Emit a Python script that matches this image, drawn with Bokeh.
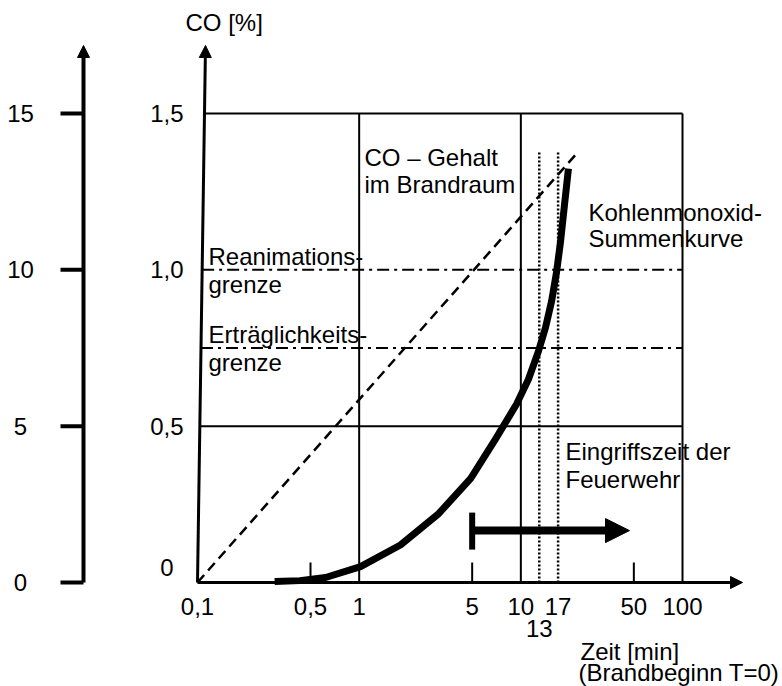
from bokeh.plotting import figure
from bokeh.models import Arrow, NormalHead
from bokeh.core.properties import value
from bokeh.embed import file_html
from bokeh.resources import INLINE

# ---------------- data ----------------
time_ticks = [0.1, 0.5, 1, 5, 10, 13, 17, 50, 100]
time_labels = ["0,1", "0,5", "1", "5", "10", "13", "17", "50", "100"]
co_ticks = [0, 0.5, 1.0, 1.5]
co_labels = ["0", "0,5", "1,0", "1,5"]
scale2_ticks = [0, 5, 10, 15]
scale2_labels = ["0", "5", "10", "15"]
scale2_factor = 10

grid_times = [1, 10, 100]
grid_co = [0.5, 1.5]
limit_co = [1.0, 0.75]
limit_names = [["Reanimations-", "grenze"], ["Erträglichkeits-", "grenze"]]
minor_times = [0.5, 5, 50]
marker_times = [13, 17]
marker_top = 1.378

room_time = [0.1, 22.7]
room_co = [0.0, 1.378]

sum_time = [0.30, 0.43, 0.62, 1.02, 1.8, 3.1, 4.9, 7.0, 9.4, 11.15, 12.86,
            14.2, 15.5, 16.6, 17.6, 18.6, 19.7]
sum_co = [0.003, 0.006, 0.016, 0.051, 0.12, 0.22, 0.333, 0.46, 0.57, 0.65,
          0.74, 0.815, 0.90, 0.99, 1.09, 1.205, 1.324]

response_start = 5
response_end = 47
response_level = 0.166

# ---------------- layout ----------------
W, H = 782, 686
X0_PX = 197.0      # canvas x of t = 0.1
DEC_PX = 161.67    # pixels per decade
Y0_PX = 104.0      # canvas y (from bottom) of CO = 0
PPU = 312.67       # pixels per CO unit

x_start = 0.1 * 10 ** (-X0_PX / DEC_PX)
x_end = 0.1 * 10 ** ((W - X0_PX) / DEC_PX)
y_start = -Y0_PX / PPU
y_end = (H - Y0_PX) / PPU


def dx(t, px):
    return t * 10 ** (px / DEC_PX)


def dy(c, px):
    return c + px / PPU


FONT = value("Liberation Sans")
FS = "24px"
t0 = time_ticks[0]
AX_TOP = dy(0, 537)
AX_SLANT = 8
LIFT = 6   # baseline correction in pixels


def axis_x(c):
    return dx(t0, AX_SLANT * c / AX_TOP)


p = figure(width=W, height=H, x_axis_type="log",
           x_range=(x_start, x_end), y_range=(y_start, y_end),
           x_axis_location=None, y_axis_location=None,
           output_backend="svg", toolbar_location=None, min_border=0)
p.grid.visible = False
p.outline_line_color = None
p.background_fill_color = "white"

# ---- secondary (left) scale ----
xL = dx(t0, -114)
p.add_layout(Arrow(end=NormalHead(size=12, fill_color="black", line_color="black"),
                   x_start=xL, y_start=0, x_end=xL, y_end=AX_TOP,
                   line_width=4, line_color="black"))
s2 = [v / scale2_factor for v in scale2_ticks]
p.segment(x0=[dx(t0, -137)] * len(s2), y0=s2, x1=[xL] * len(s2), y1=s2,
          line_width=4, line_color="black")
p.text(x=[dx(t0, -177)] * len(s2), y=s2, text=scale2_labels,
       text_font=FONT, text_font_size=FS, text_align="center",
       text_baseline="middle", text_color="black")

# ---- grid / frame lines ----
p.segment(x0=[axis_x(c) for c in grid_co], y0=grid_co,
          x1=[grid_times[-1]] * len(grid_co), y1=grid_co,
          line_width=2, line_color="black")
p.segment(x0=grid_times, y0=[0] * len(grid_times), x1=grid_times,
          y1=[co_ticks[-1]] * len(grid_times), line_width=2, line_color="black")
p.segment(x0=[axis_x(c) for c in limit_co], y0=limit_co,
          x1=[grid_times[-1]] * len(limit_co), y1=limit_co,
          line_width=2, line_color="black", line_dash="12 5 3 5")
p.segment(x0=marker_times, y0=[0] * len(marker_times), x1=marker_times,
          y1=[marker_top] * len(marker_times), line_width=2.5,
          line_color="black", line_dash="2 2")
p.segment(x0=minor_times, y0=[0] * len(minor_times), x1=minor_times,
          y1=[dy(0, 20)] * len(minor_times), line_width=2, line_color="black")

# ---- main axes ----
p.add_layout(Arrow(end=NormalHead(size=12, fill_color="black", line_color="black"),
                   x_start=t0, y_start=0, x_end=axis_x(AX_TOP), y_end=AX_TOP,
                   line_width=3, line_color="black"))
p.add_layout(Arrow(end=NormalHead(size=12, fill_color="black", line_color="black"),
                   x_start=t0, y_start=0, x_end=dx(t0, 545), y_end=0,
                   line_width=3, line_color="black"))

# ---- curves ----
p.line(room_time, room_co, line_width=2.5, line_color="black", line_dash="10 6")
p.line(sum_time, sum_co, line_width=7, line_color="black", line_cap="butt",
       line_join="round")

# ---- response-time arrow ----
p.segment(x0=[response_start], y0=[dy(response_level, -19)],
          x1=[response_start], y1=[dy(response_level, 18)],
          line_width=6, line_color="black")
p.add_layout(Arrow(end=NormalHead(size=24, fill_color="black", line_color="black"),
                   x_start=response_start, y_start=response_level,
                   x_end=response_end, y_end=response_level,
                   line_width=8, line_color="black"))

# ---- tick labels ----
row1 = [(t, l) for t, l in zip(time_ticks, time_labels) if l != "13"]
row2 = [(t, l) for t, l in zip(time_ticks, time_labels) if l == "13"]
p.text(x=[t for t, _ in row1], y=[dy(0, -24)] * len(row1),
       text=[l for _, l in row1], text_font=FONT, text_font_size=FS,
       text_align="center", text_baseline="middle", text_color="black")
p.text(x=[t for t, _ in row2], y=[dy(0, -46)] * len(row2),
       text=[l for _, l in row2], text_font=FONT, text_font_size=FS,
       text_align="center", text_baseline="middle", text_color="black")
upper = [(c, l) for c, l in zip(co_ticks, co_labels) if c > 0]
p.text(x=[dx(t0, -14)] * len(upper), y=[c for c, _ in upper],
       text=[l for _, l in upper], text_font=FONT, text_font_size=FS,
       text_align="right", text_baseline="middle", text_color="black")
p.text(x=[dx(t0, -24)], y=[dy(co_ticks[0], 15)], text=[co_labels[0]],
       text_font=FONT, text_font_size=FS, text_align="right",
       text_baseline="middle", text_color="black")

# ---- axis titles and annotations ----
notes = [
    (dx(t0, -12), dy(0, 554), "CO [%]"),
    (dx(t0, 383), dy(0, -75), "Zeit [min]"),
    (dx(t0, 381), dy(0, -96), "(Brandbeginn T=0)"),
    (dx(t0, 167), dy(0, 419), "CO – Gehalt"),
    (dx(t0, 167), dy(0, 392), "im Brandraum"),
    (dx(t0, 391), dy(0, 364), "Kohlenmonoxid-"),
    (dx(t0, 391), dy(0, 338), "Summenkurve"),
    (dx(t0, 368), dy(0, 125), "Eingriffszeit der"),
    (dx(t0, 368), dy(0, 97), "Feuerwehr"),
]
for c, names in zip(limit_co, limit_names):
    notes.append((dx(t0, 11), dy(c, 7), names[0]))
    notes.append((dx(t0, 11), dy(c, -21), names[1]))
p.text(x=[n[0] for n in notes], y=[dy(n[1], LIFT) for n in notes],
       text=[n[2] for n in notes], text_font=FONT, text_font_size=FS,
       text_align="left", text_baseline="alphabetic", text_color="black")

open("out.html", "w").write(file_html(p, INLINE))
